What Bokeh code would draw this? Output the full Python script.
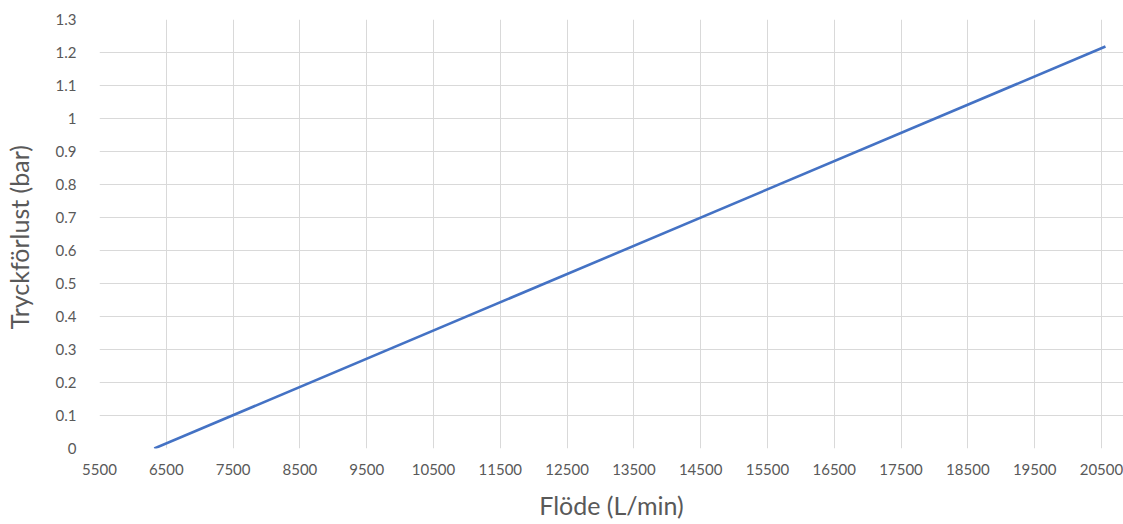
from bokeh.plotting import figure
from bokeh.models import FixedTicker, Range1d
from bokeh.embed import file_html
from bokeh.resources import INLINE

flow = [6320, 20560]
pressure_loss = [0.0, 1.218]
x_ticks = list(range(5500, 21000, 1000))
y_ticks = [round(i * 0.1, 1) for i in range(14)]
y_labels = {t: ("%g" % t) for t in y_ticks}

p = figure(width=1123, height=524, output_backend="svg", toolbar_location=None,
           x_range=Range1d(5500, 20830), y_range=Range1d(0, 1.3),
           min_border_left=96, min_border_right=0, min_border_top=19, min_border_bottom=76)
p.outline_line_color = None
p.background_fill_color = "white"

p.line(flow, pressure_loss, line_color="#4472C4", line_width=2.6)

font = "Lato"
for ax in (p.xaxis[0], p.yaxis[0]):
    ax.axis_line_color = None
    ax.major_tick_line_color = None
    ax.minor_tick_line_color = None
    ax.major_label_text_color = "#595959"
    ax.major_label_text_font = font
    ax.major_label_text_font_size = "15px"
    ax.axis_label_text_color = "#595959"
    ax.axis_label_text_font = font
    ax.axis_label_text_font_size = "25px"
    ax.axis_label_text_font_style = "normal"

p.xaxis.ticker = FixedTicker(ticks=x_ticks)
p.yaxis.ticker = FixedTicker(ticks=y_ticks)
p.yaxis.major_label_overrides = y_labels
p.xaxis.axis_label = "Flöde (L/min)"
p.yaxis.axis_label = "Tryckförlust  (bar)"
p.xaxis.major_label_standoff = 9
p.yaxis.major_label_standoff = 17
p.xaxis.axis_label_standoff = 12
p.yaxis.axis_label_standoff = 19

p.xgrid.grid_line_color = "#D9D9D9"
p.ygrid.grid_line_color = "#D9D9D9"
p.xgrid.grid_line_width = 1
p.ygrid.grid_line_width = 1

open("out.html", "w").write(file_html(p, INLINE))
